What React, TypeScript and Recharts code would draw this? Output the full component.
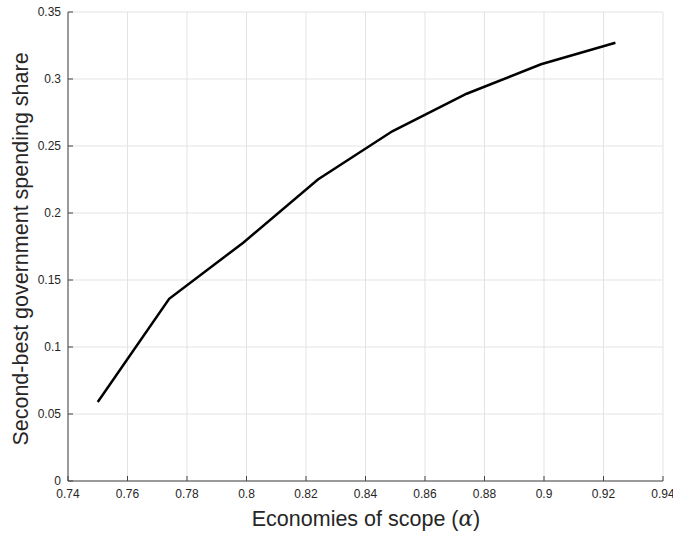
import { LineChart, Line, XAxis, YAxis, CartesianGrid, Label } from "recharts";

const alphaValues = [0.75, 0.774, 0.799, 0.824, 0.849, 0.874, 0.899, 0.924];
const spendingShare = [0.059, 0.136, 0.178, 0.225, 0.261, 0.289, 0.311, 0.327];
const xTicks = [0.74, 0.76, 0.78, 0.8, 0.82, 0.84, 0.86, 0.88, 0.9, 0.92, 0.94];
const yTicks = [0, 0.05, 0.1, 0.15, 0.2, 0.25, 0.3, 0.35];

const data = alphaValues.map((alpha, i) => ({ alpha, share: spendingShare[i] }));

const font = "'Liberation Sans', Arial, Helvetica, sans-serif";
const axisColor = "#444444";

export default function App() {
  return (
    <div style={{ position: "absolute", left: 0, top: 0, background: "#fff" }}>
      <LineChart
        width={673}
        height={534}
        data={data}
        margin={{ top: 12, right: 10, bottom: 13, left: 8 }}
      >
        <CartesianGrid stroke="#e3e3e3" strokeWidth={1} />
        <XAxis
          dataKey="alpha"
          type="number"
          domain={[0.74, 0.94]}
          ticks={xTicks}
          interval={0}
          height={40}
          tickSize={-5}
          tickMargin={13}
          stroke={axisColor}
          tick={{ fill: "#262626", fontSize: 12, fontFamily: font }}
          tickFormatter={(v) => `${v}`}
        >
          <Label
            content={() => (
              <text
                x={366}
                y={526}
                textAnchor="middle"
                fontSize={21.5}
                fontFamily={font}
                fill="#262626"
              >
                Economies of scope (
                <tspan fontFamily="'DejaVu Serif', serif" fontStyle="italic">
                  α
                </tspan>
                )
              </text>
            )}
          />
        </XAxis>
        <YAxis
          type="number"
          domain={[0, 0.35]}
          ticks={yTicks}
          interval={0}
          width={60}
          tickSize={-5}
          tickMargin={12}
          stroke={axisColor}
          tick={{ fill: "#262626", fontSize: 12, fontFamily: font }}
          tickFormatter={(v) => `${v}`}
        >
          <Label
            content={() => (
              <text
                x={28}
                y={249}
                transform="rotate(-90 28 249)"
                textAnchor="middle"
                fontSize={21.5}
                fontFamily={font}
                fill="#262626"
              >
                Second-best government spending share
              </text>
            )}
          />
        </YAxis>
        <Line
          type="linear"
          dataKey="share"
          stroke="#000000"
          strokeWidth={2.5}
          dot={false}
          isAnimationActive={false}
        />
      </LineChart>
    </div>
  );
}
